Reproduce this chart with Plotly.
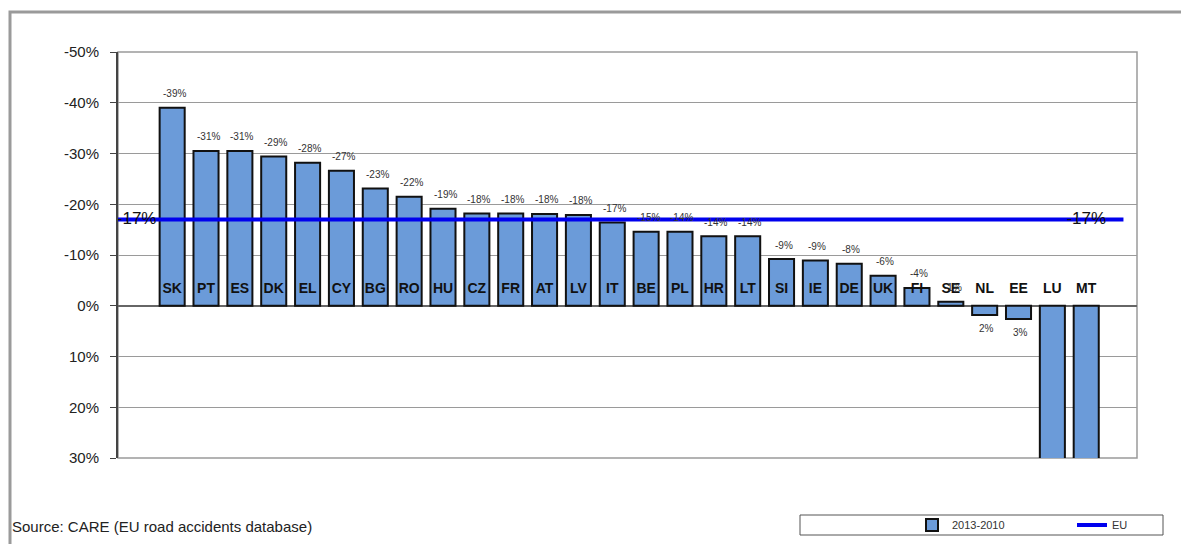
import plotly.graph_objects as go

countries = ["SK", "PT", "ES", "DK", "EL", "CY", "BG", "RO", "HU", "CZ", "FR", "AT", "LV",
             "IT", "BE", "PL", "HR", "LT", "SI", "IE", "DE", "UK", "FI", "SE", "NL", "EE", "LU", "MT"]
values = [-39.0, -30.5, -30.5, -29.4, -28.2, -26.6, -23.1, -21.5, -19.1, -18.2, -18.2, -18.1, -17.9,
          -16.4, -14.6, -14.6, -13.7, -13.7, -9.2, -8.9, -8.3, -5.9, -3.5, -0.8, 1.8, 2.6, 41.0, 38.0]
value_labels = ["-39%", "-31%", "-31%", "-29%", "-28%", "-27%", "-23%", "-22%", "-19%", "-18%", "-18%",
                "-18%", "-18%", "-17%", "-15%", "-14%", "-14%", "-14%", "-9%", "-9%", "-8%", "-6%",
                "-4%", "-1%", "2%", "3%", "", ""]
eu_value = -17
eu_label = "-17%"
y_ticks = [-50, -40, -30, -20, -10, 0, 10, 20, 30]
y_tick_labels = ["-50%", "-40%", "-30%", "-20%", "-10%", "0%", "10%", "20%", "30%"]

xs = list(range(len(countries)))

fig = go.Figure()
fig.add_trace(go.Bar(
    x=xs, y=values, name="2013-2010", width=0.74,
    marker=dict(color="#6b9bd9", line=dict(color="#111111", width=2)),
    cliponaxis=True,
))
fig.add_trace(go.Scatter(
    x=[-1.6, 28.1], y=[eu_value, eu_value], mode="lines", name="EU",
    line=dict(color="#0000ee", width=4),
))
fig.add_trace(go.Scatter(
    x=[-1.05, 27.0], y=[eu_value, eu_value], mode="text", text=[eu_label, eu_label],
    textfont=dict(family="Arial", size=17, color="#111111"), showlegend=False,
))
fig.add_trace(go.Scatter(
    x=xs, y=[-3.2] * len(xs), mode="text", text=countries,
    textfont=dict(family="Arial", size=14, color="#111111", weight="bold"),
    showlegend=False,
))

W, H = 1181, 544
L, R, T, B = 118, 1137, 52, 458
pw, ph = R - L, B - T

def px(x):
    return (x - L) / pw

def py(y):
    return (B - y) / ph

annotations = [
    dict(text="Source: CARE (EU road accidents database)", xref="paper", yref="paper",
         x=px(10), y=py(526), xanchor="left", yanchor="middle", showarrow=False,
         font=dict(family="Arial", size=15, color="#222222")),
]
for xi, v, lab in zip(xs, values, value_labels):
    if not lab:
        continue
    annotations.append(dict(
        x=xi, y=v, xref="x", yref="y", text=lab, showarrow=False,
        xshift=2, yshift=14 if v < 0 else -14, yanchor="middle",
        font=dict(family="Arial", size=10, color="#333333"),
    ))

fig.update_layout(
    width=W, height=H,
    margin=dict(l=L, r=W - R, t=T, b=H - B, autoexpand=False),
    paper_bgcolor="white", plot_bgcolor="white",
    font=dict(family="Arial", color="#222222"),
    showlegend=True,
    legend=dict(orientation="h", x=px(912), y=py(525), xanchor="left", yanchor="middle",
                font=dict(family="Liberation Sans Narrow, Arial", size=11, color="#333333"),
                bgcolor="rgba(0,0,0,0)", itemwidth=30, entrywidth=115),
    xaxis=dict(range=[-1.6, 28.5], showticklabels=False, showgrid=False, zeroline=False,
               ticks="", showline=False),
    yaxis=dict(range=[30, -50], tickvals=y_ticks, ticktext=y_tick_labels,
               tickfont=dict(family="Arial", size=15, color="#222222"),
               showgrid=True, gridcolor="#9a9a9a", gridwidth=1,
               zeroline=True, zerolinecolor="#666666", zerolinewidth=1.5,
               showline=True, linecolor="#444444", linewidth=2,
               ticks="outside", ticklen=6, tickcolor="#444444", ticklabelstandoff=8),
    shapes=[
        dict(type="rect", xref="paper", yref="paper", x0=0, x1=1, y0=0, y1=1,
             line=dict(color="#9a9a9a", width=1.5), layer="below"),
        dict(type="rect", xref="paper", yref="paper", x0=px(10), x1=px(1195), y0=py(560), y1=py(12),
             line=dict(color="#9a9a9a", width=3)),
        dict(type="rect", xref="paper", yref="paper", x0=px(800), x1=px(1163), y0=py(535), y1=py(515),
             line=dict(color="#555555", width=1)),
    ],
    annotations=annotations,
)

fig.write_html("out.html")
